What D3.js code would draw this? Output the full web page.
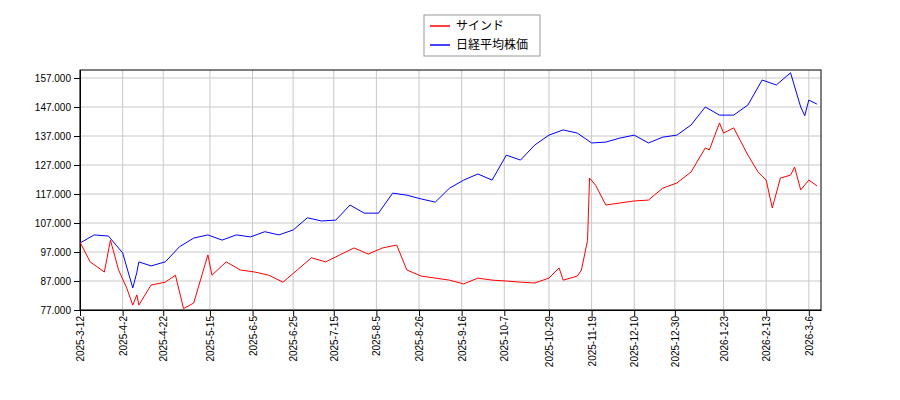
<!DOCTYPE html>
<html><head><meta charset="utf-8">
<script src="https://cdn.jsdelivr.net/npm/d3@7"></script>
<style>body{margin:0;background:#fff}</style>
</head><body>
<script>
// data
const blueDates = ["2025-03-12","2025-03-19","2025-03-26","2025-04-02","2025-04-07","2025-04-09","2025-04-10","2025-04-16","2025-04-23","2025-04-30","2025-05-07","2025-05-14","2025-05-21","2025-05-28","2025-06-04","2025-06-11","2025-06-18","2025-06-25","2025-07-02","2025-07-09","2025-07-16","2025-07-23","2025-07-30","2025-08-06","2025-08-13","2025-08-20","2025-08-27","2025-09-03","2025-09-10","2025-09-17","2025-09-24","2025-10-01","2025-10-08","2025-10-15","2025-10-22","2025-10-29","2025-11-05","2025-11-12","2025-11-19","2025-11-26","2025-12-03","2025-12-10","2025-12-17","2025-12-24","2025-12-31","2026-01-07","2026-01-14","2026-01-21","2026-01-28","2026-02-04","2026-02-11","2026-02-18","2026-02-25","2026-03-02","2026-03-04","2026-03-06","2026-03-10"];
const blueValues = [100.1,102.9,102.5,96.7,84.6,90,93.6,92.2,93.6,98.8,101.8,102.9,101.1,102.9,102.2,104,102.9,104.6,108.8,107.7,108,113.2,110.4,110.4,117.3,116.6,115.3,114.2,119,121.8,123.9,121.8,130.4,128.7,133.9,137.3,139.1,138,134.6,134.9,136.3,137.3,134.6,136.6,137.3,140.8,147,144.2,144.2,147.7,156.3,154.6,158.8,147,144,149.4,148];

const redDates = ["2025-03-12","2025-03-17","2025-03-24","2025-03-27","2025-03-31","2025-04-04","2025-04-07","2025-04-09","2025-04-10","2025-04-16","2025-04-23","2025-04-28","2025-05-02","2025-05-07","2025-05-14","2025-05-16","2025-05-23","2025-05-30","2025-06-06","2025-06-13","2025-06-20","2025-06-27","2025-07-04","2025-07-11","2025-07-18","2025-07-25","2025-08-01","2025-08-08","2025-08-15","2025-08-20","2025-08-27","2025-09-03","2025-09-10","2025-09-17","2025-09-24","2025-10-01","2025-10-08","2025-10-15","2025-10-22","2025-10-29","2025-11-03","2025-11-05","2025-11-12","2025-11-14","2025-11-17","2025-11-18","2025-11-21","2025-11-26","2025-12-03","2025-12-10","2025-12-17","2025-12-24","2025-12-31","2026-01-07","2026-01-14","2026-01-16","2026-01-21","2026-01-23","2026-01-28","2026-02-04","2026-02-09","2026-02-13","2026-02-16","2026-02-20","2026-02-25","2026-02-27","2026-03-02","2026-03-06","2026-03-10"];
const redValues = [100.4,93.6,90.1,101.1,90.8,84.6,78.7,82.2,78.7,85.6,86.6,89,77.5,79.4,96,89,93.6,90.8,90.1,89,86.6,90.8,95,93.6,96,98.4,96.3,98.4,99.4,90.8,88.7,88,87.3,86,88,87.3,87,86.6,86.3,88,91.5,87.3,88.7,90.8,101,122.5,120,113.2,113.9,114.6,114.9,119,120.8,124.6,132.9,132.2,141.5,138,139.8,130.4,124.6,121.8,112.2,122.5,123.5,126.3,118.4,121.8,119.8];

const seriesNames = ["サインド","日経平均株価"];
const yTicks = [77,87,97,107,117,127,137,147,157];
const xTickDates = ["2025-03-12","2025-04-02","2025-04-22","2025-05-15","2025-06-05","2025-06-25","2025-07-15","2025-08-05","2025-08-26","2025-09-16","2025-10-07","2025-10-29","2025-11-19","2025-12-10","2025-12-30","2026-01-23","2026-02-13","2026-03-06"];

const parse = d3.timeParse("%Y-%m-%d");
const margin = {top: 70, right: 79, bottom: 90, left: 80};
const width = 900 - margin.left - margin.right;
const height = 400 - margin.top - margin.bottom;

const svg = d3.select("body").append("svg")
    .attr("width", 900).attr("height", 400)
    .style("font-family", "DejaVu Sans");
const g = svg.append("g").attr("transform", `translate(${margin.left},${margin.top})`);

const x = d3.scaleTime().domain([parse("2025-03-12"), parse("2026-03-12")]).range([0, width]);
const y = d3.scaleLinear().domain([77, 159.76]).range([height, 0]);

// grid
g.append("g").selectAll("line").data(yTicks).join("line")
    .attr("x1", 0).attr("x2", width).attr("y1", d => y(d)).attr("y2", d => y(d))
    .attr("stroke", "#c8c8c8");
g.append("g").selectAll("line").data(xTickDates).join("line")
    .attr("y1", 0).attr("y2", height).attr("x1", d => x(parse(d))).attr("x2", d => x(parse(d)))
    .attr("stroke", "#c8c8c8");

g.append("g").call(d3.axisLeft(y).tickValues(yTicks).tickFormat(d => d + ".000").tickSizeOuter(0))
    .call(a => a.selectAll("text").attr("font-size", 10).attr("fill", "#000"));
g.append("g").attr("transform", `translate(0,${height})`)
    .call(d3.axisBottom(x).tickValues(xTickDates.map(parse)).tickFormat(d => `${d.getFullYear()}-${d.getMonth()+1}-${d.getDate()}`).tickSizeOuter(0))
    .call(a => a.selectAll("text").attr("font-size", 10).attr("fill", "#000")
        .attr("transform", "rotate(-90)").attr("text-anchor", "end").attr("dx", "-0.6em").attr("dy", "0.35em").attr("x", 0).attr("y", 0));
g.append("rect").attr("width", width).attr("height", height).attr("fill", "none").attr("stroke", "#000");

const line = d3.line().x(d => x(d[0])).y(d => y(d[1]));
g.append("path").datum(blueDates.map((d, i) => [parse(d), blueValues[i]]))
    .attr("fill", "none").attr("stroke", "#0000ff").attr("d", line);
g.append("path").datum(redDates.map((d, i) => [parse(d), redValues[i]]))
    .attr("fill", "none").attr("stroke", "#ff0000").attr("d", line);

// legend
const lg = svg.append("g").attr("transform", "translate(424,15)");
lg.append("rect").attr("width", 116).attr("height", 41).attr("fill", "#fff").attr("stroke", "#999");
[["#ff0000", seriesNames[0]], ["#0000ff", seriesNames[1]]].forEach((s, i) => {
    lg.append("line").attr("x1", 6).attr("x2", 26).attr("y1", 11 + i * 19).attr("y2", 11 + i * 19).attr("stroke", s[0]).attr("stroke-width", 1.5);
    lg.append("text").attr("x", 32).attr("y", 15 + i * 19).attr("font-size", 12).attr("font-family", "Noto Sans CJK JP").text(s[1]);
});
</script>
</body></html>
